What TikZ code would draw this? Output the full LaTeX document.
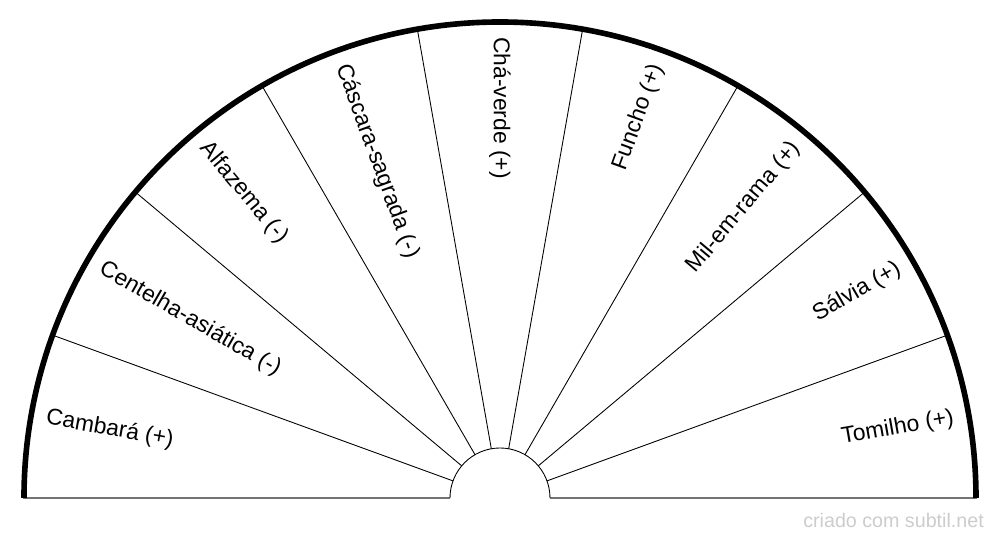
\documentclass[tikz,border=0pt]{standalone}
\usepackage{fontspec}
\setmainfont{Liberation Sans}

\begin{document}
\begin{tikzpicture}[
    font=\fontsize{13}{15}\selectfont,
    % Styles
    rim/.style={line width=3.2pt},
    spoke/.style={line width=0.5pt},
    base/.style={line width=0.9pt, draw=black!55},
    herb/.style={inner sep=0pt},
    credit/.style={text=black!20, font=\fontsize{11.2}{13}\selectfont},
]
    \useasboundingbox (-10,-0.84) rectangle (10,9.96);

    % Base line and hub
    \draw[base] (-9.54,0) -- (-1,0);
    \draw[base] (1,0) -- (9.54,0);
    \draw[spoke] (1,0) arc (0:180:1);

    % Spokes
    \foreach \a in {20,40,...,160}
        \draw[spoke] (\a:1) -- (\a:9.52);

    % Outer rim
    \draw[rim] (9.52,0) arc (0:180:9.52);

    % Labels
    \foreach \a/\txt [count=\i] in {10/{Tomilho (+)}, 30/{Sálvia (+)},
        50/{Mil-em-rama (+)}, 70/{Funcho (+)}, 90/{Chá-verde (+)},
        110/{Cáscara-sagrada (-)}, 130/{Alfazema (-)},
        150/{Centelha-asiática (-)}, 170/{Cambará (+)}} {
        \ifnum\a<90
            \node[herb, anchor=east, rotate=\a] (herb\i) at (\a:9.22) {\txt};
        \else
            \pgfmathsetmacro\r{\a-180}
            \node[herb, anchor=west, rotate=\r] (herb\i) at (\a:9.22) {\txt};
        \fi
    }

    \node[credit, anchor=east] (credit) at (9.8,-0.44) {criado com subtil.net};

\end{tikzpicture}
\end{document}
